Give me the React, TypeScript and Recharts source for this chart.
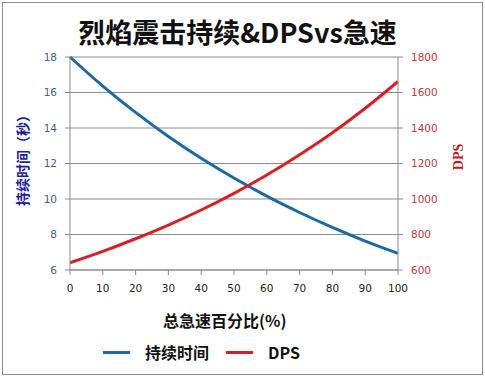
import { CartesianGrid, Line, LineChart, XAxis, YAxis } from 'recharts';

const haste = [0, 10, 20, 30, 40, 50, 60, 70, 80, 90, 100];
const duration = [18, 16.36, 14.88, 13.52, 12.29, 11.18, 10.16, 9.24, 8.4, 7.63, 6.94];
const dps = [641, 705, 776, 853, 938, 1032, 1135, 1249, 1373, 1511, 1662];
const durationTicks = [6, 8, 10, 12, 14, 16, 18];
const dpsTicks = [600, 800, 1000, 1200, 1400, 1600, 1800];
const seriesNames = ['持续时间', 'DPS'];

const data = haste.map((h, i) => ({ haste: h, duration: duration[i], dps: dps[i] }));

const BLUE = '#1f68a8';
const RED = '#d42126';
const GRID = '#8c8c8c';
const CJK = '"Noto Sans CJK SC", sans-serif';
const seriesColors = [BLUE, RED];

export default function App() {
  return (
    <div style={{ position: 'absolute', left: 0, top: 0, width: 485, height: 378, background: '#fff' }}>
      <div style={{ position: 'absolute', left: 2, top: 2, width: 479, height: 371, border: '1px solid #8a8a8a' }} />
      <div
        style={{
          position: 'absolute', left: 0, width: 475, top: 14, textAlign: 'center',
          fontFamily: CJK, fontWeight: 700, fontSize: 27, lineHeight: '36px', color: '#111',
        }}
      >
        烈焰震击持续&amp;DPSvs急速
      </div>
      <div
        style={{
          position: 'absolute', left: 22, top: 157, transform: 'translate(-50%, -50%) rotate(-90deg)',
          whiteSpace: 'nowrap', fontFamily: CJK, fontWeight: 700, fontSize: 14, color: '#1c1c9c',
        }}
      >
        持续时间（秒）
      </div>
      <div
        style={{
          position: 'absolute', left: 459, top: 157, transform: 'translate(-50%, -50%) rotate(-90deg)',
          whiteSpace: 'nowrap', fontFamily: '"Liberation Serif", serif', fontWeight: 700, fontSize: 14, color: '#b01c1c',
        }}
      >
        DPS
      </div>
      <div
        style={{
          position: 'absolute', left: 163, top: 308, whiteSpace: 'nowrap',
          fontFamily: CJK, fontWeight: 700, fontSize: 16, lineHeight: '24px', color: '#111',
        }}
      >
        总急速百分比(%)
      </div>
      <div
        style={{
          position: 'absolute', left: 103, top: 340, display: 'flex', alignItems: 'center',
          fontFamily: CJK, fontWeight: 700, fontSize: 16, lineHeight: '24px', color: '#111',
        }}
      >
        {seriesNames.map((name, i) => (
          <div key={name} style={{ display: 'flex', alignItems: 'center', marginRight: 17 }}>
            <span style={{ display: 'inline-block', width: 27, height: 3, background: seriesColors[i], marginRight: 15 }} />
            <span>{name}</span>
          </div>
        ))}
      </div>
      <LineChart
        width={485}
        height={378}
        data={data}
        margin={{ top: 57, right: 0, left: 0, bottom: 78 }}
        style={{ position: 'absolute', left: 0, top: 0 }}
      >
        <CartesianGrid yAxisId="left" stroke={GRID} vertical={false} />
        <XAxis
          dataKey="haste"
          type="number"
          domain={[0, 100]}
          ticks={haste}
          height={30}
          stroke={GRID}
          tickSize={5}
          tickMargin={10}
          tick={{ fill: '#222', fontSize: 10.5, fontFamily: '"DejaVu Sans", sans-serif' }}
        />
        <YAxis
          yAxisId="left"
          width={70}
          domain={[6, 18]}
          ticks={durationTicks}
          stroke={GRID}
          tickSize={5}
          tickMargin={8}
          tick={{ fill: '#3b5f8a', fontSize: 10.5, fontFamily: '"DejaVu Sans", sans-serif' }}
        />
        <YAxis
          yAxisId="right"
          orientation="right"
          width={87}
          domain={[600, 1800]}
          ticks={dpsTicks}
          stroke={GRID}
          tickSize={5}
          tickMargin={8}
          tick={{ fill: '#c0393b', fontSize: 10.5, fontFamily: '"DejaVu Sans", sans-serif' }}
        />
        <Line yAxisId="left" type="monotone" dataKey="duration" name={seriesNames[0]} stroke={BLUE} strokeWidth={3} dot={false} isAnimationActive={false} />
        <Line yAxisId="right" type="monotone" dataKey="dps" name={seriesNames[1]} stroke={RED} strokeWidth={3} dot={false} isAnimationActive={false} />
      </LineChart>
    </div>
  );
}
